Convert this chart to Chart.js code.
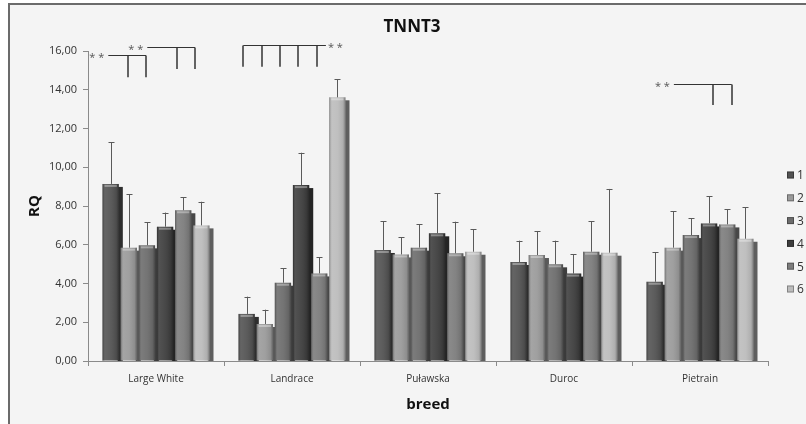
<!DOCTYPE html>
<html>
<head>
<meta charset="utf-8">
<script src="https://cdn.jsdelivr.net/npm/chart.js@4/dist/chart.umd.min.js"></script>
<style>
  body { margin: 0; background: #ffffff; }
  #wrap { position: relative; width: 806px; height: 424px; overflow: hidden; }
  #frame { position: absolute; left: 8px; top: 3px; width: 810px; height: 430px;
           border: 2px solid #6b6b6b; background: #f4f4f4; }
  #chart { position: absolute; left: 0; top: 0; }
</style>
</head>
<body>
<div id="wrap">
  <div id="frame"></div>
  <canvas id="chart" width="806" height="424"></canvas>
</div>
<script>
// breeds on the x axis
const categories = ["Large White", "Landrace", "Puławska", "Duroc", "Pietrain"];
const seriesLabels = ["1", "2", "3", "4", "5", "6"];

// mean RQ per series
const s1 = [9.14, 2.43, 5.73, 5.11, 4.09];
const s2 = [5.85, 1.91, 5.50, 5.47, 5.85];
const s3 = [5.97, 4.04, 5.85, 4.99, 6.50];
const s4 = [6.93, 9.08, 6.59, 4.51, 7.10];
const s5 = [7.78, 4.52, 5.56, 5.64, 7.05];
const s6 = [7.00, 13.61, 5.64, 5.59, 6.31];

// top of the error bar per series
const e1 = [11.29, 3.32, 7.21, 6.21, 5.61];
const e2 = [8.60, 2.65, 6.38, 6.71, 7.74];
const e3 = [7.16, 4.78, 7.05, 6.21, 7.36];
const e4 = [7.66, 10.75, 8.67, 5.52, 8.50];
const e5 = [8.45, 5.35, 7.19, 7.22, 7.83];
const e6 = [8.22, 14.55, 6.80, 8.88, 7.93];

const yTicks = [0, 2, 4, 6, 8, 10, 12, 14, 16];

// significance brackets: category, line start (bar slot), ticks (bar slots), y of line, y of tick ends
const brackets = [
  { cat: 0, from: -0.13, ticks: [0.97, 1.95], y: 15.79, low: 14.64, stars: "left" },
  { cat: 0, from: 2.02, ticks: [3.64, 4.65], y: 16.22, low: 15.07, stars: "left" },
  { cat: 1, from: -0.19, to: 4.37, ticks: [-0.19, 0.84, 1.84, 2.83, 3.86], y: 16.31, low: 15.19, stars: "right" },
  { cat: 4, from: 1.06, ticks: [3.23, 4.25], y: 14.30, low: 13.21, stars: "left" },
];

const values = [s1, s2, s3, s4, s5, s6];
const errors = [e1, e2, e3, e4, e5, e6];
const colors = ["#525252", "#9a9a9a", "#6c6c6c", "#3d3d3d", "#7c7c7c", "#bcbcbc"];
const sideColors = ["#2e2e2e", "#5a5a5a", "#3e3e3e", "#242424", "#474747", "#5e5e5e"];

const CAT_PCT = 0.8;
const FONT = "'Open Sans', 'DejaVu Sans', sans-serif";

const decorPlugin = {
  id: "decor",
  beforeDatasetsDraw(chart) {
    // dark 3D side of every bar, drawn behind the fronts
    const ctx = chart.ctx;
    const base = chart.scales.y.getPixelForValue(0);
    ctx.save();
    chart.data.datasets.forEach((ds, i) => {
      chart.getDatasetMeta(i).data.forEach((el) => {
        ctx.fillStyle = sideColors[i];
        ctx.fillRect(el.x + el.width / 2 - 1, el.y + 3, 5, base - el.y - 3);
      });
    });
    ctx.restore();
  },
  afterDatasetsDraw(chart) {
    const ctx = chart.ctx;
    const x = chart.scales.x;
    const y = chart.scales.y;
    const base = y.getPixelForValue(0);
    ctx.save();
    // shading on bar fronts
    chart.data.datasets.forEach((ds, i) => {
      chart.getDatasetMeta(i).data.forEach((el) => {
        const l = el.x - el.width / 2;
        const g = ctx.createLinearGradient(l, 0, l + el.width, 0);
        g.addColorStop(0, "rgba(0,0,0,0.30)");
        g.addColorStop(0.18, "rgba(255,255,255,0.10)");
        g.addColorStop(0.5, "rgba(255,255,255,0.06)");
        g.addColorStop(0.85, "rgba(0,0,0,0.08)");
        g.addColorStop(1, "rgba(0,0,0,0.35)");
        ctx.fillStyle = g;
        ctx.fillRect(l, el.y, el.width, base - el.y);
        ctx.fillStyle = "rgba(255,255,255,0.35)";
        ctx.fillRect(l + 2, el.y + 1, el.width - 4, 2);
      });
    });
    // error bars
    ctx.strokeStyle = "#5a5a5a";
    ctx.lineWidth = 1;
    chart.data.datasets.forEach((ds, i) => {
      chart.getDatasetMeta(i).data.forEach((el, j) => {
        const top = y.getPixelForValue(errors[i][j]);
        const cx = Math.round(el.x) + 0.5;
        ctx.beginPath();
        ctx.moveTo(cx, el.y);
        ctx.lineTo(cx, top);
        ctx.moveTo(cx - 3, Math.round(top) + 0.5);
        ctx.lineTo(cx + 3, Math.round(top) + 0.5);
        ctx.stroke();
      });
    });
    // significance brackets
    const slot = (x.getPixelForValue(1) - x.getPixelForValue(0)) * CAT_PCT / seriesLabels.length;
    const px = (b, pos) => x.getPixelForValue(b.cat) + (pos - (seriesLabels.length - 1) / 2) * slot;
    ctx.font = "11px " + FONT;
    ctx.textBaseline = "middle";
    brackets.forEach((b) => {
      const ly = Math.round(y.getPixelForValue(b.y)) + 0.5;
      const lowY = y.getPixelForValue(b.low);
      const x0 = px(b, b.from);
      const x1 = px(b, b.to !== undefined ? b.to : b.ticks[b.ticks.length - 1]);
      ctx.strokeStyle = "#333";
      ctx.lineWidth = 1;
      ctx.beginPath();
      ctx.moveTo(x0, ly);
      ctx.lineTo(x1, ly);
      ctx.stroke();
      ctx.lineWidth = 1.5;
      b.ticks.forEach((t) => {
        const tx = Math.round(px(b, t));
        ctx.beginPath();
        ctx.moveTo(tx, ly);
        ctx.lineTo(tx, lowY);
        ctx.stroke();
      });
      ctx.fillStyle = "#555";
      if (b.stars === "left") {
        ctx.textAlign = "right";
        ctx.fillText("* *", x0 - 4, ly + 2);
      } else {
        ctx.textAlign = "left";
        ctx.fillText("* *", x1 + 2, ly + 2);
      }
    });
    ctx.restore();
  },
  afterDraw(chart) {
    const ctx = chart.ctx;
    ctx.save();
    // title
    ctx.fillStyle = "#111";
    ctx.font = "bold 17px " + FONT;
    ctx.textAlign = "center";
    ctx.textBaseline = "middle";
    ctx.fillText("TNNT3", 412, 27);
    // legend
    ctx.font = "12px " + FONT;
    ctx.textAlign = "left";
    chart.data.datasets.forEach((ds, i) => {
      const cy = 175 + i * 22.8;
      ctx.fillStyle = colors[i];
      ctx.fillRect(787, cy - 3.5, 7, 7);
      ctx.strokeStyle = "rgba(0,0,0,0.3)";
      ctx.strokeRect(787.5, cy - 3, 6, 6);
      ctx.fillStyle = "#333";
      ctx.fillText(ds.label, 797, cy + 1);
    });
    ctx.restore();
  },
};

new Chart(document.getElementById("chart"), {
  type: "bar",
  data: {
    labels: categories,
    datasets: seriesLabels.map((label, i) => ({
      label: label,
      data: values[i],
      backgroundColor: colors[i],
      borderWidth: 0,
      categoryPercentage: CAT_PCT,
      barPercentage: 0.9,
    })),
  },
  options: {
    responsive: false,
    animation: false,
    layout: { padding: { left: 10, right: 38, top: 51, bottom: 0 } },
    scales: {
      x: {
        afterFit: (scale) => { scale.height = 63; },
        grid: { offset: true, drawOnChartArea: false, tickLength: 5, color: "#8a8a8a" },
        border: { color: "#8a8a8a" },
        ticks: { padding: 7, color: "#333", font: { family: FONT, size: 10 } },
        title: { display: true, text: "breed", color: "#111", font: { family: FONT, size: 15, weight: "bold" }, padding: { bottom: 10 } },
      },
      y: {
        min: 0,
        max: 16,
        afterFit: (scale) => { scale.width = 78; },
        afterBuildTicks: (scale) => { scale.ticks = yTicks.map((v) => ({ value: v })); },
        grid: { drawOnChartArea: false, tickLength: 5, color: "#8a8a8a" },
        border: { color: "#8a8a8a" },
        ticks: {
          padding: 6,
          color: "#333",
          font: { family: FONT, size: 11 },
          callback: (v) => v.toFixed(2).replace(".", ","),
        },
        title: { display: true, text: "RQ", color: "#111", font: { family: FONT, size: 15, weight: "bold" }, padding: { top: 16 } },
      },
    },
    plugins: {
      legend: { display: false },
      title: { display: false },
      tooltip: { enabled: false },
    },
  },
  plugins: [decorPlugin],
});
</script>
</body>
</html>
